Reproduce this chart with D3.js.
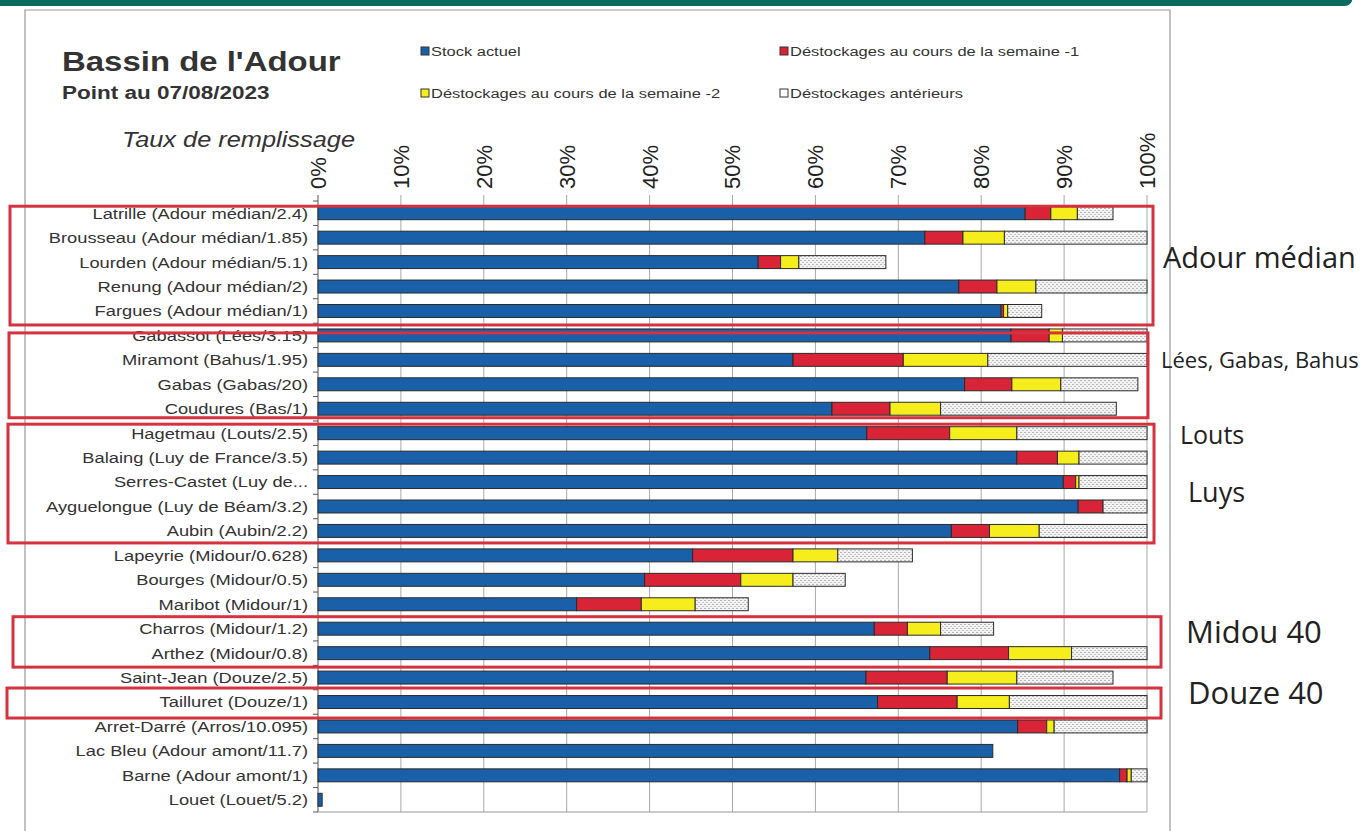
<!DOCTYPE html>
<html>
<head>
<meta charset="utf-8">
<script src="https://cdn.jsdelivr.net/npm/d3@7"></script>
<style>
  body { margin: 0; background: #fff; }
  svg { display: block; }
</style>
</head>
<body>
<div id="chart"></div>
<script>

// barrages, de haut en bas
var names = [
  "Latrille (Adour médian/2.4)",
  "Brousseau (Adour médian/1.85)",
  "Lourden (Adour médian/5.1)",
  "Renung (Adour médian/2)",
  "Fargues (Adour médian/1)",
  "Gabassot (Lées/3.15)",
  "Miramont (Bahus/1.95)",
  "Gabas (Gabas/20)",
  "Coudures (Bas/1)",
  "Hagetmau (Louts/2.5)",
  "Balaing (Luy de France/3.5)",
  "Serres-Castet (Luy de...",
  "Ayguelongue (Luy de Béam/3.2)",
  "Aubin (Aubin/2.2)",
  "Lapeyrie (Midour/0.628)",
  "Bourges (Midour/0.5)",
  "Maribot (Midour/1)",
  "Charros (Midour/1.2)",
  "Arthez (Midour/0.8)",
  "Saint-Jean (Douze/2.5)",
  "Tailluret (Douze/1)",
  "Arret-Darré (Arros/10.095)",
  "Lac Bleu (Adour amont/11.7)",
  "Barne (Adour amont/1)",
  "Louet (Louet/5.2)"
];

// en % du volume
var stock = [85.3, 73.2, 53.1, 77.3, 82.4, 83.6, 57.3, 78.0, 62.0, 66.2, 84.3, 89.9, 91.7, 76.4, 45.2, 39.4, 31.2, 67.1, 73.8, 66.1, 67.5, 84.4, 81.4, 96.7, 0.5];
var sem1  = [3.1, 4.6, 2.7, 4.6, 0.3, 4.6, 13.3, 5.7, 7.0, 10.0, 4.9, 1.5, 3.0, 4.6, 12.1, 11.6, 7.8, 4.0, 9.5, 9.8, 9.6, 3.5, 0, 0.9, 0];
var sem2  = [3.2, 5.0, 2.2, 4.7, 0.5, 1.6, 10.2, 5.9, 6.1, 8.1, 2.6, 0.4, 0, 6.0, 5.4, 6.3, 6.5, 4.0, 7.6, 8.4, 6.3, 0.9, 0, 0.5, 0];
var anter = [4.3, 17.2, 10.5, 13.4, 4.1, 10.2, 19.2, 9.3, 21.2, 15.7, 8.2, 8.2, 5.3, 13.0, 9.0, 6.3, 6.4, 6.4, 9.1, 11.6, 16.6, 11.2, 0, 1.9, 0];

var ticks = [0, 10, 20, 30, 40, 50, 60, 70, 80, 90, 100];

var seriesKeys = ["stock", "sem1", "sem2", "anter"];
var seriesLabels = ["Stock actuel", "Déstockages au cours de la semaine -1",
                    "Déstockages au cours de la semaine -2", "Déstockages antérieurs"];

// annotations ajoutées à la main sur le document
var groupLabels = ["Adour médian", "Lées, Gabas, Bahus", "Louts", "Midou 40", "Douze 40"];
var groupFirst  = [0, 5, 9, 17, 20];
var groupLast   = [4, 8, 13, 18, 20];

var width = 1367, height = 831;
var colors = { stock: "#1a60a8", sem1: "#d92438", sem2: "#f6ee1c", anter: "url(#dots)" };
var SX = 1.22;   // le scan est étiré en largeur

var svg = d3.select("#chart").append("svg")
    .attr("width", width)
    .attr("height", height)
    .style("font-family", "'Liberation Sans', Arial, sans-serif");

// texte étiré horizontalement autour de son point d'ancrage
function addText(px, py, str, size, sx) {
  return svg.append("text")
      .attr("transform", "translate(" + px + "," + py + ") scale(" + sx + ",1)")
      .style("font-size", size + "px")
      .attr("fill", "#333")
      .text(str);
}

var defs = svg.append("defs");
var pat = defs.append("pattern")
    .attr("id", "dots")
    .attr("width", 4).attr("height", 4)
    .attr("patternUnits", "userSpaceOnUse");
pat.append("rect").attr("width", 4).attr("height", 4).attr("fill", "#f2f2f2");
pat.append("rect").attr("x", 0).attr("y", 0).attr("width", 2).attr("height", 1).attr("fill", "#b8b8b8");
pat.append("rect").attr("x", 2).attr("y", 2).attr("width", 2).attr("height", 1).attr("fill", "#c8c8c8");

// bandeau du site + bords de la page scannée
svg.append("path")
    .attr("d", "M0,0 H1352 V1 Q1350,6 1344,6 H0 Z")
    .attr("fill", "#0a6a5e");
svg.append("path")
    .attr("d", "M25,831 V10 H1170 V831")
    .attr("fill", "none")
    .attr("stroke", "#9a9a9a")
    .attr("stroke-width", 1.2);

var x = d3.scaleLinear().domain([0, 100]).range([318, 1147]);
var y = d3.scaleBand().domain(names).range([201, 812])
    .paddingInner(0.47).paddingOuter(0.235);

// titres
addText(62, 71, "Bassin de l'Adour", 27, SX).style("font-weight", "bold");
addText(62, 99, "Point au 07/08/2023", 18, 1.25).style("font-weight", "bold");
addText(122, 147, "Taux de remplissage", 21.5, 1.18).style("font-style", "italic");

// légende
var legPos = [[421, 51], [780, 51], [421, 93], [780, 93]];
var legColor = ["#1a60a8", "#d92438", "#f6ee1c", "#fff"];
seriesLabels.forEach(function(d, i) {
  svg.append("rect")
      .attr("x", legPos[i][0]).attr("y", legPos[i][1] - 4)
      .attr("width", 8).attr("height", 8)
      .attr("fill", legColor[i])
      .attr("stroke", "#333").attr("stroke-width", 1);
  addText(legPos[i][0] + 10, legPos[i][1], d, 13.5, SX).attr("dy", "0.35em");
});

// grille + axe du haut
var gx = svg.append("g").attr("class", "axis axis--x");
gx.selectAll("line").data(ticks).enter().append("line")
    .attr("x1", function(d) { return x(d); }).attr("x2", function(d) { return x(d); })
    .attr("y1", 195).attr("y2", 812)
    .attr("stroke", function(d) { return d == 0 ? "#555" : "#a8a8a8"; })
    .attr("stroke-width", 1);
gx.selectAll("text").data(ticks).enter().append("text")
    .attr("transform", function(d) { return "translate(" + x(d) + ",189) rotate(-90)"; })
    .attr("dy", "0.36em")
    .style("font-size", "22px").attr("fill", "#222")
    .text(function(d) { return d + "%"; });

svg.append("line").attr("x1", 318).attr("x2", 1147).attr("y1", 812).attr("y2", 812)
    .attr("stroke", "#999");

// petits repères à gauche entre les barrages
var step = y.step();
svg.selectAll(".ytick").data(d3.range(names.length + 1)).enter().append("line")
    .attr("class", "ytick")
    .attr("x1", 313).attr("x2", 318)
    .attr("y1", function(i) { return 201 + i * step; })
    .attr("y2", function(i) { return 201 + i * step; })
    .attr("stroke", "#555");

// barres empilées
var table = names.map(function(n, i) {
  return { name: n, stock: stock[i], sem1: sem1[i], sem2: sem2[i], anter: anter[i] };
});
var stacked = d3.stack().keys(seriesKeys)(table);

svg.selectAll(".serie").data(stacked).enter().append("g")
    .attr("class", "serie")
    .attr("fill", function(d) { return colors[d.key]; })
  .selectAll("rect").data(function(d) { return d.filter(function(v) { return v[1] - v[0] > 0; }); })
  .enter().append("rect")
    .attr("x", function(d) { return x(d[0]); })
    .attr("width", function(d) { return x(d[1]) - x(d[0]); })
    .attr("y", function(d) { return y(d.data.name); })
    .attr("height", y.bandwidth())
    .attr("stroke", "#2a2a2a")
    .attr("stroke-width", 1);

// noms des barrages
names.forEach(function(d) {
  addText(308, y(d) + y.bandwidth() / 2, d, 15, SX)
      .attr("dy", "0.36em")
      .attr("text-anchor", "end");
});

// cadres rouges et commentaires
var boxLeft  = [10, 9, 8, 13, 7];
var boxRight = [1153, 1148, 1154, 1161, 1161];
var boxTop   = [7, 2.5, 9, 12, 14];
var boxBot   = [14, 9, 12, 14, 16];
var labPos   = [[1163, 258, 29], [1161, 360, 22], [1180, 435, 25], [1186, 632, 31], [1188, 693, 31]];

groupLabels.forEach(function(g, i) {
  var c0 = y(names[groupFirst[i]]) + y.bandwidth() / 2;
  var c1 = y(names[groupLast[i]]) + y.bandwidth() / 2;
  svg.append("rect")
      .attr("x", boxLeft[i]).attr("y", c0 - boxTop[i])
      .attr("width", boxRight[i] - boxLeft[i])
      .attr("height", (c1 + boxBot[i]) - (c0 - boxTop[i]))
      .attr("fill", "none")
      .attr("stroke", "#d4323f")
      .attr("stroke-width", 3);
  svg.append("text")
      .attr("x", labPos[i][0]).attr("y", labPos[i][1])
      .attr("dy", "0.35em")
      .style("font-family", "'Open Sans', 'Noto Sans', sans-serif")
      .style("font-size", labPos[i][2] + "px")
      .attr("fill", "#222")
      .text(g);
});
// "Luys" est écrit à côté de Serres-Castet
svg.append("text")
    .attr("x", 1188).attr("y", 493).attr("dy", "0.35em")
    .style("font-family", "'Open Sans', 'Noto Sans', sans-serif")
    .style("font-size", "27px").attr("fill", "#222")
    .text("Luys");

</script>
</body>
</html>
